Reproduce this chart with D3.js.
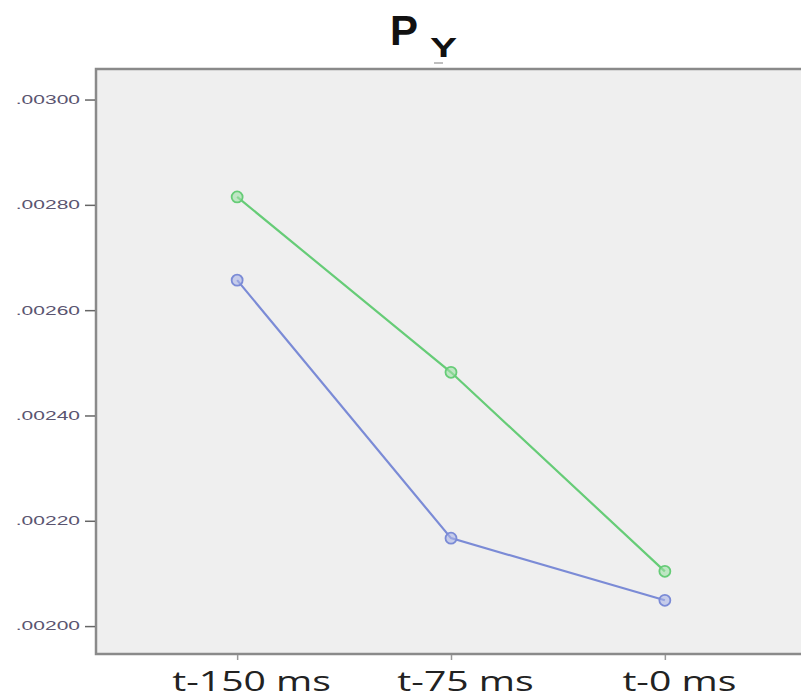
<!DOCTYPE html>
<html><head><meta charset="utf-8">
<script src="https://cdn.jsdelivr.net/npm/d3@7"></script>
<style>body{margin:0;background:#fff;}svg{display:block;}</style>
</head><body>
<svg id="chart" width="801" height="693"></svg>
<script>
const categories = ["t-150 ms", "t-75 ms", "t-0 ms"];
const greenValues = [0.002815, 0.002482, 0.002104];
const blueValues = [0.002657, 0.002167, 0.002049];
const yTicks = [0.0020, 0.0022, 0.0024, 0.0026, 0.0028, 0.0030];
const yTickLabels = [".00200", ".00220", ".00240", ".00260", ".00280", ".00300"];

const svg = d3.select("#chart");
const pLeft = 96, pRight = 806, pTop = 69, pBottom = 654;

const x = d3.scalePoint().domain(categories).range([pLeft, pRight]).padding(0.66);
const y = d3.scaleLinear().domain([0.001947, 0.003058]).range([pBottom, pTop]);

svg.append("rect").attr("x", pLeft).attr("y", pTop).attr("width", pRight - pLeft).attr("height", pBottom - pTop)
  .attr("fill", "#efefef").attr("stroke", "#8a8a8a").attr("stroke-width", 2.5);

// y axis
const yAxis = d3.axisLeft(y).tickValues(yTicks).tickFormat((d, i) => yTickLabels[i]).tickSize(10);
const ya = svg.append("g").attr("transform", `translate(${pLeft - 1},0)`).call(yAxis);
ya.select(".domain").remove();
ya.selectAll("line").attr("stroke", "#666").attr("stroke-width", 1.5);
ya.selectAll("text").attr("font-family", "Liberation Sans, Arial, sans-serif").attr("font-size", 12)
  .attr("fill", "#5a5570").attr("x", 0).attr("transform", "translate(-15,0) scale(1.75,1)");

// x axis
const xAxis = d3.axisBottom(x).tickSize(5);
const xa = svg.append("g").attr("transform", `translate(0,${pBottom + 1})`).call(xAxis);
xa.select(".domain").remove();
xa.selectAll("line").attr("stroke", "#999").attr("stroke-width", 1.5);
xa.selectAll("text").attr("font-family", "Open Sans, sans-serif").attr("font-size", 27).attr("fill", "#222")
  .attr("dy", null).attr("x", 0).attr("y", 36).attr("transform", "translate(14,0) scale(1.45,1)");

const line = d3.line().x((d, i) => x(categories[i])).y(d => y(d));
const series = [
  {vals: greenValues, color: "#66cc77", fill: "#9ee0a6"},
  {vals: blueValues, color: "#7b8bd6", fill: "#aab4e6"}
];
series.forEach(s => {
  svg.append("path").datum(s.vals).attr("d", line).attr("fill", "none")
    .attr("stroke", s.color).attr("stroke-width", 2.2);
  svg.selectAll(null).data(s.vals).enter().append("circle")
    .attr("cx", (d, i) => x(categories[i])).attr("cy", d => y(d)).attr("r", 5.5)
    .attr("fill", s.fill).attr("fill-opacity", 0.6).attr("stroke", s.color).attr("stroke-width", 1.8);
});

// title
svg.append("text").attr("x", 390).attr("y", 45)
  .attr("font-family", "Liberation Sans, Arial, sans-serif").attr("font-weight", "bold")
  .attr("font-size", 42).attr("fill", "#111").text("P");
svg.append("text").attr("transform", "translate(430,57) scale(1.45,1)")
  .attr("font-family", "Liberation Sans, Arial, sans-serif").attr("font-weight", "bold")
  .attr("font-size", 28).attr("fill", "#111").text("Y");
svg.append("line").attr("x1", 434).attr("x2", 443).attr("y1", 63).attr("y2", 63)
  .attr("stroke", "#aaa").attr("stroke-width", 1.5);
</script>
</body></html>
